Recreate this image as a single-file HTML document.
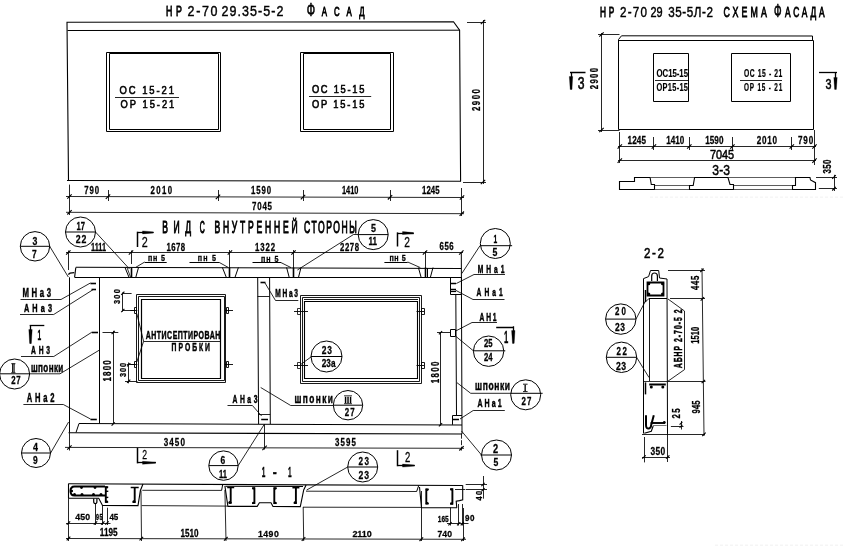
<!DOCTYPE html>
<html lang="ru">
<head>
<meta charset="utf-8">
<title>НР 2-70 29.35-5-2 ФАСАД</title>
<style>
html,body{margin:0;padding:0;background:#fff;}
body{width:844px;height:547px;overflow:hidden;}
svg{display:block;}
svg path,svg circle{fill:none;stroke:#000;stroke-linecap:butt;stroke-linejoin:miter;}
svg path.f{fill:#000;}
svg circle.d{fill:#000;stroke:none;}
svg text.r{font-weight:400;}
svg text{font-family:"Liberation Sans","DejaVu Sans",sans-serif;font-weight:700;fill:#000;}
</style>
</head>
<body>
<svg width="844" height="547" viewBox="0 0 844 547" role="img" aria-label="НР 2-70 29.35-5-2 Фасад">
<rect width="844" height="547" fill="#fff"/>
<defs><filter id="b" x="-2%" y="-2%" width="104%" height="104%"><feGaussianBlur stdDeviation="0.25"/></filter></defs><g filter="url(#b)">
<text transform="translate(166 16.2) scale(0.6 1)" font-size="14.71" class="r" stroke="#000" stroke-width="0.7" vector-effect="non-scaling-stroke" textLength="26.33" lengthAdjust="spacing">НР</text>
<text transform="translate(187.6 15.8) scale(0.85 1)" font-size="14.73" class="r" stroke="#000" stroke-width="0.4" vector-effect="non-scaling-stroke" textLength="35.18" lengthAdjust="spacing">2-70</text>
<text transform="translate(221.4 15.8) scale(0.85 1)" font-size="14.73" class="r" stroke="#000" stroke-width="0.4" vector-effect="non-scaling-stroke" textLength="72.94" lengthAdjust="spacing">29.35-5-2</text>
<text transform="translate(306.8 16.2) scale(0.59 1)" font-size="18.68" class="r" stroke="#000" stroke-width="0.6" vector-effect="non-scaling-stroke">Ф</text>
<text transform="translate(321.7 16.2) scale(0.6 1)" font-size="13.09" class="r" stroke="#000" stroke-width="0.7" vector-effect="non-scaling-stroke" textLength="71.5" lengthAdjust="spacing">АСАД</text>
<path d="M68.5 180.5L67 22.3L453.5 21.7L459.6 30.2L460.6 181.3" stroke-width="1.1"/>
<path d="M67.5 30.5L459.6 30.2" stroke-width="1"/>
<path d="M67 180.5L461 181.3" stroke-width="1.1"/>
<path d="M106.5 52.5L220.5 52.5L220.5 131.5L106.5 131.5Z" stroke-width="1"/>
<path d="M109.5 53.5L218.5 53.5L218.5 129.5L109.5 129.5Z" stroke-width="1"/>
<path d="M300.5 52.5L393.5 52.5L393.5 131.5L300.5 131.5Z" stroke-width="1"/>
<path d="M303.5 53.5L390.5 53.5L390.5 129.5L303.5 129.5Z" stroke-width="1"/>
<text transform="translate(119.6 93.6) scale(0.85 1)" font-size="11.1" class="r" stroke="#000" stroke-width="0.55" vector-effect="non-scaling-stroke" textLength="64" lengthAdjust="spacing">ОС 15-21</text>
<path d="M115 97.5L179 97.5" stroke-width="0.85"/>
<text transform="translate(120.5 108) scale(0.85 1)" font-size="10.96" class="r" stroke="#000" stroke-width="0.55" vector-effect="non-scaling-stroke" textLength="63.29" lengthAdjust="spacing">ОР 15-21</text>
<text transform="translate(311.9 93) scale(0.85 1)" font-size="10.96" class="r" stroke="#000" stroke-width="0.55" vector-effect="non-scaling-stroke" textLength="61.76" lengthAdjust="spacing">ОС 15-15</text>
<path d="M309 96.5L371.2 96.5" stroke-width="0.85"/>
<text transform="translate(311.9 107.6) scale(0.85 1)" font-size="10.96" class="r" stroke="#000" stroke-width="0.55" vector-effect="non-scaling-stroke" textLength="61.76" lengthAdjust="spacing">ОР 15-15</text>
<path d="M483.5 20L483.5 184" stroke-width="0.85"/>
<path d="M467 22.5L486 22.5" stroke-width="0.85"/>
<path d="M463 182.5L486 182.5" stroke-width="0.85"/>
<path d="M480.8 24.2L485.2 19.8" stroke-width="1.1"/>
<path d="M480.8 184.2L485.2 179.8" stroke-width="1.1"/>
<text transform="translate(480.2 111) rotate(-90) scale(0.78 1)" font-size="10.14" stroke="#000" stroke-width="0.25" vector-effect="non-scaling-stroke" textLength="28.21" lengthAdjust="spacing">2900</text>
<path d="M66 196.5L464 197.5" stroke-width="0.85"/>
<path d="M66 212.3L464 213.7" stroke-width="0.85"/>
<path d="M69.5 184.6L69.5 215" stroke-width="0.85"/>
<path d="M461.5 188L461.5 216" stroke-width="0.85"/>
<path d="M67.3 198.71L71.7 194.31" stroke-width="1.1"/>
<path d="M105.8 198.81L110.2 194.41" stroke-width="1.1"/>
<path d="M215.8 199.08L220.2 194.68" stroke-width="1.1"/>
<path d="M300.8 199.3L305.2 194.9" stroke-width="1.1"/>
<path d="M387.8 199.51L392.2 195.11" stroke-width="1.1"/>
<path d="M459.8 199.69L464.2 195.29" stroke-width="1.1"/>
<path d="M108.5 190L108.5 201" stroke-width="0.85"/>
<path d="M218.5 190L218.5 201" stroke-width="0.85"/>
<path d="M303.5 190L303.5 201" stroke-width="0.85"/>
<path d="M390.5 190L390.5 201" stroke-width="0.85"/>
<path d="M67.3 214.5L71.7 210.1" stroke-width="1.1"/>
<path d="M459.6 215.9L464 211.5" stroke-width="1.1"/>
<text transform="translate(84.2 194.2) scale(0.78 1)" font-size="10" stroke="#000" stroke-width="0.25" vector-effect="non-scaling-stroke" textLength="18.97" lengthAdjust="spacing">790</text>
<text transform="translate(150.5 194.2) scale(0.78 1)" font-size="10" stroke="#000" stroke-width="0.25" vector-effect="non-scaling-stroke" textLength="27.56" lengthAdjust="spacing">2010</text>
<text transform="translate(251 194.2) scale(0.78 1)" font-size="10" stroke="#000" stroke-width="0.25" vector-effect="non-scaling-stroke" textLength="25.64" lengthAdjust="spacing">1590</text>
<text transform="translate(342 194.2) scale(0.74 1)" font-size="10" stroke="#000" stroke-width="0.25" vector-effect="non-scaling-stroke" textLength="22.25" lengthAdjust="spacing">1410</text>
<text transform="translate(422 194.2) scale(0.78 1)" font-size="10" stroke="#000" stroke-width="0.25" vector-effect="non-scaling-stroke" textLength="22.44" lengthAdjust="spacing">1245</text>
<text transform="translate(252 209.5) scale(0.78 1)" font-size="10.14" stroke="#000" stroke-width="0.25" vector-effect="non-scaling-stroke" textLength="25.64" lengthAdjust="spacing">7045</text>
<text transform="translate(600.1 16.5) scale(0.6 1)" font-size="13.82" class="r" stroke="#000" stroke-width="0.7" vector-effect="non-scaling-stroke" textLength="23.67" lengthAdjust="spacing">НР</text>
<text transform="translate(620 16.5) scale(0.8 1)" font-size="14.59" class="r" stroke="#000" stroke-width="0.4" vector-effect="non-scaling-stroke" textLength="33.75" lengthAdjust="spacing">2-70</text>
<text transform="translate(650.4 16.5) scale(0.75 1)" font-size="14.59" class="r" stroke="#000" stroke-width="0.4" vector-effect="non-scaling-stroke" textLength="16.23" lengthAdjust="spacing">29</text>
<text transform="translate(668.3 16.5) scale(0.8 1)" font-size="14.59" class="r" stroke="#000" stroke-width="0.4" vector-effect="non-scaling-stroke" textLength="55.75" lengthAdjust="spacing">35-5Л-2</text>
<text transform="translate(723.4 16.5) scale(0.6 1)" font-size="14.71" class="r" stroke="#000" stroke-width="0.7" vector-effect="non-scaling-stroke" textLength="72.5" lengthAdjust="spacing">СХЕМА</text>
<text transform="translate(774 17) scale(0.54 1)" font-size="18.38" class="r" stroke="#000" stroke-width="0.6" vector-effect="non-scaling-stroke">Ф</text>
<text transform="translate(785 16.5) scale(0.6 1)" font-size="13.97" class="r" stroke="#000" stroke-width="0.7" vector-effect="non-scaling-stroke" textLength="66" lengthAdjust="spacing">АСАДА</text>
<path d="M618.5 129.5L618.5 39.5L621.5 35.8L812.5 36L812.5 40.5" stroke-width="1"/>
<path d="M618.5 40.5L813.5 40.5" stroke-width="1"/>
<path d="M813.5 40.5L813.5 129.5" stroke-width="1"/>
<path d="M618.5 129.5L813.5 129.5" stroke-width="1"/>
<path d="M653.5 53.5L688.5 53.5L688.5 101.5L653.5 101.5Z" stroke-width="1"/>
<path d="M731.5 53.5L790.5 53.5L790.5 101.5L731.5 101.5Z" stroke-width="1"/>
<text transform="translate(656.5 76.7) scale(0.7 1)" font-size="11.18" stroke="#000" stroke-width="0.15" vector-effect="non-scaling-stroke" textLength="45" lengthAdjust="spacing">ОС15-15</text>
<path d="M655 80.5L688 80.5" stroke-width="0.85"/>
<text transform="translate(656.5 91.2) scale(0.7 1)" font-size="10.59" stroke="#000" stroke-width="0.15" vector-effect="non-scaling-stroke" textLength="45" lengthAdjust="spacing">ОР15-15</text>
<text transform="translate(744 76.5) scale(0.62 1)" font-size="10.88" stroke="#000" stroke-width="0.2" vector-effect="non-scaling-stroke" textLength="61.77" lengthAdjust="spacing">ОС 15 - 21</text>
<path d="M740 80.5L782 80.5" stroke-width="0.85"/>
<text transform="translate(744 91) scale(0.62 1)" font-size="10.29" stroke="#000" stroke-width="0.2" vector-effect="non-scaling-stroke" textLength="61.77" lengthAdjust="spacing">ОР 15 - 21</text>
<path d="M601.5 33L601.5 132" stroke-width="0.85"/>
<path d="M598 34.5L619.5 34.5" stroke-width="0.85"/>
<path d="M598 130.5L619.5 130.5" stroke-width="0.85"/>
<path d="M599.3 36.7L603.7 32.3" stroke-width="1.1"/>
<path d="M599.3 132.2L603.7 127.8" stroke-width="1.1"/>
<text transform="translate(597.7 89.2) rotate(-90) scale(0.78 1)" font-size="10" stroke="#000" stroke-width="0.25" vector-effect="non-scaling-stroke" textLength="27.18" lengthAdjust="spacing">2900</text>
<path d="M570 72.5L585.5 72.5" stroke-width="1.5"/>
<path d="M571.5 72L571.5 89.3" stroke-width="1.3"/>
<path d="M569.3 76.5L572.7 76.5L571.8 89.5L570.2 89.5Z" stroke-width="0.3" class="f"/>
<text transform="translate(577.8 88.6) scale(0.77 1)" font-size="15.81" class="r" stroke="#000" stroke-width="0.5" vector-effect="non-scaling-stroke">3</text>
<path d="M819 72.5L837 72.5" stroke-width="1.3"/>
<path d="M835.5 72.5L835.5 89" stroke-width="1.3"/>
<path d="M833.8 77.5L837.2 77.5L836.3 89.5L834.7 89.5Z" stroke-width="0.3" class="f"/>
<text transform="translate(825.4 89) scale(0.7 1)" font-size="15.41" class="r" stroke="#000" stroke-width="0.5" vector-effect="non-scaling-stroke">3</text>
<path d="M618 146.5L816 146.5" stroke-width="0.85"/>
<path d="M618 160.5L816 160.5" stroke-width="0.85"/>
<path d="M619.5 132L619.5 163" stroke-width="0.85"/>
<path d="M814.5 130L814.5 165" stroke-width="0.85"/>
<path d="M617.6 148.7L622 144.3" stroke-width="1.1"/>
<path d="M651.7 148.7L656.1 144.3" stroke-width="1.1"/>
<path d="M687.1 148.7L691.5 144.3" stroke-width="1.1"/>
<path d="M730.2 148.7L734.6 144.3" stroke-width="1.1"/>
<path d="M789.6 148.7L794 144.3" stroke-width="1.1"/>
<path d="M812.3 148.7L816.7 144.3" stroke-width="1.1"/>
<path d="M653.5 137L653.5 150" stroke-width="0.85"/>
<path d="M689.5 137L689.5 150" stroke-width="0.85"/>
<path d="M732.5 137L732.5 150" stroke-width="0.85"/>
<path d="M791.5 137L791.5 150" stroke-width="0.85"/>
<path d="M617.6 162.8L622 158.4" stroke-width="1.1"/>
<path d="M812.3 162.8L816.7 158.4" stroke-width="1.1"/>
<text transform="translate(627.5 143.7) scale(0.78 1)" font-size="10.41" stroke="#000" stroke-width="0.25" vector-effect="non-scaling-stroke" textLength="23.72" lengthAdjust="spacing">1245</text>
<text transform="translate(666.2 143.7) scale(0.78 1)" font-size="10.41" stroke="#000" stroke-width="0.25" vector-effect="non-scaling-stroke" textLength="23.21" lengthAdjust="spacing">1410</text>
<text transform="translate(705.2 143.7) scale(0.78 1)" font-size="10.41" stroke="#000" stroke-width="0.25" vector-effect="non-scaling-stroke" textLength="23.46" lengthAdjust="spacing">1590</text>
<text transform="translate(756.7 143.7) scale(0.78 1)" font-size="10.41" stroke="#000" stroke-width="0.25" vector-effect="non-scaling-stroke" textLength="26.03" lengthAdjust="spacing">2010</text>
<text transform="translate(797.9 143.7) scale(0.78 1)" font-size="10.41" stroke="#000" stroke-width="0.25" vector-effect="non-scaling-stroke" textLength="19.74" lengthAdjust="spacing">790</text>
<text transform="translate(710.1 159.2) scale(0.9 1)" font-size="12.16" class="r" stroke="#000" stroke-width="0.45" vector-effect="non-scaling-stroke" textLength="26.56" lengthAdjust="spacing">7045</text>
<text transform="translate(712.3 175) scale(0.8 1)" font-size="15.14" class="r" stroke="#000" stroke-width="0.45" vector-effect="non-scaling-stroke" textLength="22.13" lengthAdjust="spacing">3-3</text>
<path d="M619.5 181.5L634.5 181.5L634.5 177.5L650.1 177.5L651.3 184.5L654.5 184.5L654.5 189.5L619.5 189.5Z" stroke-width="1.1"/>
<path d="M650 177.5L694 177.5" stroke-width="0.8" style="stroke:#333"/>
<path d="M654.6 185.5L689.6 185.5" stroke-width="0.8" style="stroke:#333"/>
<path d="M654.6 189.5L689.6 189.5" stroke-width="0.8" style="stroke:#333"/>
<path d="M689.5 189.5L689.5 185.5L693.2 185.5L694.6 177.5L728 177.5L730 184.5L733.5 184.5L733.5 189.5Z" stroke-width="1.1"/>
<path d="M728 177.5L795.7 177.5" stroke-width="0.8" style="stroke:#333"/>
<path d="M733.6 185.5L792 185.5" stroke-width="0.8" style="stroke:#333"/>
<path d="M733.6 189.5L792 189.5" stroke-width="0.8" style="stroke:#333"/>
<path d="M792.5 189.5L792.5 185.5L795.5 185.5L795.5 177.5L810 177.5L810.5 180L815.5 182.7L815.5 189.5Z" stroke-width="1.1"/>
<path d="M816 177.5L837 177.5" stroke-width="0.85"/>
<path d="M818.8 188.5L837 188.5" stroke-width="0.85"/>
<path d="M834.5 174.8L834.5 191" stroke-width="0.85"/>
<path d="M832.2 178.8L835.8 175.2" stroke-width="1.1"/>
<path d="M832.2 190.5L835.8 186.9" stroke-width="1.1"/>
<text transform="translate(831 173.4) rotate(-90) scale(0.78 1)" font-size="10.14" stroke="#000" stroke-width="0.25" vector-effect="non-scaling-stroke" textLength="17.69" lengthAdjust="spacing">350</text>
<text transform="translate(162.3 232.7) scale(0.52 1)" font-size="16.47" class="r" stroke="#000" stroke-width="0.8" vector-effect="non-scaling-stroke" textLength="55.19" lengthAdjust="spacing">ВИД</text>
<text transform="translate(199.8 232.7) scale(0.42 1)" font-size="16.47" class="r" stroke="#000" stroke-width="0.8" vector-effect="non-scaling-stroke">С</text>
<text transform="translate(214.4 232.7) scale(0.52 1)" font-size="16.47" class="r" stroke="#000" stroke-width="0.8" vector-effect="non-scaling-stroke" textLength="160.19" lengthAdjust="spacing">ВНУТРЕННЕЙ</text>
<text transform="translate(304 232.7) scale(0.52 1)" font-size="16.47" class="r" stroke="#000" stroke-width="0.8" vector-effect="non-scaling-stroke" textLength="101.54" lengthAdjust="spacing">СТОРОНЫ</text>
<path d="M66 252.5L463 252.5" stroke-width="0.85"/>
<path d="M66.1 254.7L70.5 250.3" stroke-width="1.1"/>
<path d="M128.8 254.7L133.2 250.3" stroke-width="1.1"/>
<path d="M227.7 254.7L232.1 250.3" stroke-width="1.1"/>
<path d="M291.3 254.7L295.7 250.3" stroke-width="1.1"/>
<path d="M422.8 254.7L427.2 250.3" stroke-width="1.1"/>
<path d="M459.1 254.7L463.5 250.3" stroke-width="1.1"/>
<path d="M68.5 250.5L68.5 270" stroke-width="0.85"/>
<path d="M131.5 250.5L131.5 264" stroke-width="0.85"/>
<path d="M229.5 250L229.5 268" stroke-width="0.85"/>
<path d="M293.5 250L293.5 268" stroke-width="0.85"/>
<path d="M425.5 251L425.5 268" stroke-width="0.85"/>
<text transform="translate(91 250.6) scale(0.73 1)" font-size="10" stroke="#000" stroke-width="0.25" vector-effect="non-scaling-stroke" textLength="20.59" lengthAdjust="spacing">1111</text>
<text transform="translate(166.5 250.6) scale(0.78 1)" font-size="10" stroke="#000" stroke-width="0.25" vector-effect="non-scaling-stroke" textLength="23.97" lengthAdjust="spacing">1678</text>
<text transform="translate(255 250.6) scale(0.78 1)" font-size="10" stroke="#000" stroke-width="0.25" vector-effect="non-scaling-stroke" textLength="25.64" lengthAdjust="spacing">1322</text>
<text transform="translate(340 250.6) scale(0.78 1)" font-size="10" stroke="#000" stroke-width="0.25" vector-effect="non-scaling-stroke" textLength="24.36" lengthAdjust="spacing">2278</text>
<text transform="translate(439.6 250.4) scale(0.78 1)" font-size="10" stroke="#000" stroke-width="0.25" vector-effect="non-scaling-stroke" textLength="17.95" lengthAdjust="spacing">656</text>
<path d="M137.5 231.7L137.5 247" stroke-width="1.5"/>
<path d="M137.6 232.5L153.3 232.5" stroke-width="1.3"/>
<path d="M142.5 230.9L153.5 231.9L153.5 232.9L142.5 233.9Z" stroke-width="0.3" class="f"/>
<text transform="translate(141.7 247.3) scale(0.72 1)" font-size="15" class="r" stroke="#000" stroke-width="0.25" vector-effect="non-scaling-stroke">2</text>
<path d="M397.5 232.4L397.5 246.5" stroke-width="1.5"/>
<path d="M397.1 233.5L413.8 233.5" stroke-width="1.3"/>
<path d="M402.5 231.6L413.5 232.6L413.5 233.6L402.5 234.6Z" stroke-width="0.3" class="f"/>
<text transform="translate(404.3 247.4) scale(0.69 1)" font-size="14.86" class="r" stroke="#000" stroke-width="0.25" vector-effect="non-scaling-stroke">2</text>
<path d="M137.5 447.8L137.5 463.4" stroke-width="1.5"/>
<path d="M137.8 462.5L155.9 462.5" stroke-width="1.3"/>
<path d="M142.5 461.3L155.5 462.3L155.5 463.3L142.5 464.3Z" stroke-width="0.3" class="f"/>
<text transform="translate(142.3 458.8) scale(0.64 1)" font-size="13.51" class="r" stroke="#000" stroke-width="0.25" vector-effect="non-scaling-stroke">2</text>
<path d="M397.5 450.2L397.5 466.3" stroke-width="1.5"/>
<path d="M397.9 465.5L414.7 465.5" stroke-width="1.3"/>
<path d="M402.5 464.1L414.5 465.1L414.5 466.1L402.5 467.1Z" stroke-width="0.3" class="f"/>
<text transform="translate(404.9 461.6) scale(0.65 1)" font-size="14.73" class="r" stroke="#000" stroke-width="0.25" vector-effect="non-scaling-stroke">2</text>
<path d="M75.8 267.3L461.3 268.5" stroke-width="1.1"/>
<path d="M74.6 277.5L461.3 277.5" stroke-width="1.1"/>
<path d="M75.8 267.5L74.6 277.3" stroke-width="1.1"/>
<path d="M68.3 274.6L70 273.2L74.3 272.7" stroke-width="1.3"/>
<path d="M131.5 267.5L131.5 277.3" stroke-width="1.6"/>
<path d="M125 267.5L129 277.3" stroke-width="1"/>
<path d="M138.5 267.5L135.8 277.3" stroke-width="1"/>
<path d="M127 267.5L130.6 277.3" stroke-width="0.8"/>
<path d="M229.5 267.5L229.5 277.3" stroke-width="1.6"/>
<path d="M222.4 267.5L226.3 277.3" stroke-width="1"/>
<path d="M238.4 267.5L235 277.3" stroke-width="1"/>
<path d="M293.5 267.5L293.5 277.3" stroke-width="1.6"/>
<path d="M286.6 267.5L289.2 277.3" stroke-width="1"/>
<path d="M301 267.5L298.5 277.3" stroke-width="1"/>
<path d="M425.5 267.5L425.5 277.3" stroke-width="1.6"/>
<path d="M418.4 267.5L421.1 277.3" stroke-width="1"/>
<path d="M433 267.5L430.4 277.3" stroke-width="1"/>
<path d="M427.5 268L427.5 277.3" stroke-width="1"/>
<text transform="translate(148 260.9) scale(0.8 1)" font-size="8.92" stroke="#000" stroke-width="0.3" vector-effect="non-scaling-stroke" textLength="21.25" lengthAdjust="spacing">пн 5</text>
<path d="M144.7 262.5L166.7 262.5" stroke-width="1"/>
<path d="M144.7 262L135.8 267.3" stroke-width="0.85"/>
<text transform="translate(197.7 261.3) scale(0.8 1)" font-size="8.92" stroke="#000" stroke-width="0.3" vector-effect="non-scaling-stroke" textLength="22.88" lengthAdjust="spacing">пн 5</text>
<path d="M189.5 262.5L219.2 262.5" stroke-width="1"/>
<path d="M219.2 262.4L228 267.3" stroke-width="0.85"/>
<text transform="translate(261 261.5) scale(0.8 1)" font-size="8.92" stroke="#000" stroke-width="0.3" vector-effect="non-scaling-stroke" textLength="21.88" lengthAdjust="spacing">пн 5</text>
<path d="M252.5 262.5L281 262.5" stroke-width="1"/>
<path d="M281 262.6L291 267.6" stroke-width="0.85"/>
<text transform="translate(389.4 260.9) scale(0.8 1)" font-size="8.92" stroke="#000" stroke-width="0.3" vector-effect="non-scaling-stroke" textLength="20.5" lengthAdjust="spacing">пн 5</text>
<path d="M384.4 262.5L407.7 262.5" stroke-width="1"/>
<path d="M407.7 262L420.3 267.6" stroke-width="0.85"/>
<path d="M69.5 277.3L69.5 432.7" stroke-width="1"/>
<path d="M99.5 277.3L99.5 423.5" stroke-width="1"/>
<path d="M257.7 277.3L258.6 424" stroke-width="1"/>
<path d="M269.6 277.3L270.3 424" stroke-width="1"/>
<path d="M257.5 296.5L269.5 296.5" stroke-width="0.85"/>
<path d="M455.8 294L456.5 415.8" stroke-width="1"/>
<path d="M461.3 252L462 434" stroke-width="1"/>
<path d="M79 423.5L462 425" stroke-width="1.1"/>
<path d="M68.5 432.8L462 434" stroke-width="1.1"/>
<path d="M79 423.5L76 432.5" stroke-width="1"/>
<path d="M65 447.4L464 448.3" stroke-width="0.85"/>
<path d="M69.5 433L69.5 450.5" stroke-width="0.85"/>
<path d="M264.5 424L264.5 449.5" stroke-width="0.85"/>
<path d="M461.5 433.7L461.5 450.5" stroke-width="0.85" stroke-dasharray="5 1.5"/>
<path d="M67.2 449.7L71.6 445.3" stroke-width="1.1"/>
<path d="M262.4 450.1L266.8 445.7" stroke-width="1.1"/>
<path d="M459.3 450.5L463.7 446.1" stroke-width="1.1"/>
<text transform="translate(163.7 445.7) scale(0.78 1)" font-size="10.41" stroke="#000" stroke-width="0.25" vector-effect="non-scaling-stroke" textLength="27.31" lengthAdjust="spacing">3450</text>
<text transform="translate(335 446) scale(0.78 1)" font-size="10.14" stroke="#000" stroke-width="0.25" vector-effect="non-scaling-stroke" textLength="26.92" lengthAdjust="spacing">3595</text>
<path d="M258.5 414.5L270.2 414.5" stroke-width="0.85"/>
<path d="M261.2 419.5L268 419.5" stroke-width="1.5"/>
<path d="M136.5 294.5L225.5 294.5L225.5 382.5L136.5 382.5Z" stroke-width="0.9"/>
<path d="M138.5 296.5L224.5 296.5L224.5 380.5L138.5 380.5Z" stroke-width="0.9"/>
<path d="M141.5 299.5L220.5 299.5L220.5 378.5L141.5 378.5Z" stroke-width="1.2"/>
<path d="M300.5 295.5L421.5 295.5L421.5 383.5L300.5 383.5Z" stroke-width="0.9"/>
<path d="M302.5 297.5L419.5 297.5L419.5 381.5L302.5 381.5Z" stroke-width="0.9"/>
<path d="M304.5 301.5L417.5 301.5L417.5 378.5L304.5 378.5Z" stroke-width="1.1"/>
<path d="M304 299.5L418 299.5" stroke-width="0.9"/>
<path d="M134.5 307.5L136.5 307.5L136.5 313.5L134.5 313.5Z" stroke-width="0.9"/>
<path d="M130.3 310.5L137.3 310.5" stroke-width="0.9"/>
<path d="M134.5 361.5L136.5 361.5L136.5 367.5L134.5 367.5Z" stroke-width="0.9"/>
<path d="M130.3 364.5L137.3 364.5" stroke-width="0.9"/>
<path d="M226.5 307.5L228.5 307.5L228.5 313.5L226.5 313.5Z" stroke-width="0.9"/>
<path d="M225 310.5L233 310.5" stroke-width="0.9"/>
<path d="M226.5 361.5L228.5 361.5L228.5 367.5L226.5 367.5Z" stroke-width="0.9"/>
<path d="M225 364.5L233 364.5" stroke-width="0.9"/>
<path d="M294 311.5L308 311.5" stroke-width="0.9"/>
<path d="M297.5 308.5L300.5 308.5L300.5 314.5L297.5 314.5Z" stroke-width="0.8"/>
<path d="M294 365.5L308 365.5" stroke-width="0.9"/>
<path d="M297.5 362.5L300.5 362.5L300.5 368.5L297.5 368.5Z" stroke-width="0.8"/>
<path d="M421.5 308.5L424.5 308.5L424.5 314.5L421.5 314.5Z" stroke-width="0.9"/>
<path d="M416.5 311.5L424 311.5" stroke-width="0.9"/>
<path d="M421.5 362.5L424.5 362.5L424.5 368.5L421.5 368.5Z" stroke-width="0.9"/>
<path d="M416.5 365.5L424 365.5" stroke-width="0.9"/>
<path d="M122.5 292.5L122.5 311.6" stroke-width="0.85"/>
<path d="M122 293.5L131.6 293.5" stroke-width="0.85"/>
<path d="M122.8 310.5L134 310.5" stroke-width="0.85"/>
<path d="M121.2 294.8L124.4 291.6" stroke-width="1.1"/>
<path d="M121.2 312.1L124.4 308.9" stroke-width="1.1"/>
<text transform="translate(120 304) rotate(-90) scale(0.78 1)" font-size="9.46" stroke="#000" stroke-width="0.25" vector-effect="non-scaling-stroke" textLength="18.97" lengthAdjust="spacing">300</text>
<path d="M128.5 362.5L128.5 383.3" stroke-width="0.85"/>
<path d="M126.7 364.5L134 364.5" stroke-width="0.85"/>
<path d="M125 381.5L137.5 381.5" stroke-width="0.85"/>
<path d="M127.1 366.3L130.3 363.1" stroke-width="1.1"/>
<path d="M127.1 382.9L130.3 379.7" stroke-width="1.1"/>
<text transform="translate(125.8 377) rotate(-90) scale(0.78 1)" font-size="9.46" stroke="#000" stroke-width="0.25" vector-effect="non-scaling-stroke" textLength="17.95" lengthAdjust="spacing">300</text>
<path d="M113.5 330.8L113.5 424" stroke-width="0.85"/>
<path d="M102.5 332.5L118.3 332.5" stroke-width="0.85"/>
<path d="M111.6 334.1L114.8 330.9" stroke-width="1.1"/>
<path d="M111.6 425.6L114.8 422.4" stroke-width="1.1"/>
<text transform="translate(111 381.5) rotate(-90) scale(0.78 1)" font-size="10.27" stroke="#000" stroke-width="0.25" vector-effect="non-scaling-stroke" textLength="27.18" lengthAdjust="spacing">1800</text>
<path d="M440.5 332.7L440.5 425.5" stroke-width="0.85"/>
<path d="M437 332.5L450 332.5" stroke-width="0.85"/>
<path d="M438.9 334.3L442.1 331.1" stroke-width="1.1"/>
<path d="M438.9 426.3L442.1 423.1" stroke-width="1.1"/>
<text transform="translate(439.4 383.2) rotate(-90) scale(0.78 1)" font-size="10.14" stroke="#000" stroke-width="0.25" vector-effect="non-scaling-stroke" textLength="27.69" lengthAdjust="spacing">1800</text>
<text transform="translate(145.8 338.8) scale(0.66 1)" font-size="10.59" stroke="#000" stroke-width="0.4" vector-effect="non-scaling-stroke" textLength="112.88" lengthAdjust="spacing">АНТИСЕПТИРОВАН</text>
<path d="M143.6 341.5L220.8 341.5" stroke-width="0.85"/>
<path d="M143.6 341.3L136.8 313.5" stroke-width="0.85"/>
<path d="M143.6 341.3L136.8 362" stroke-width="0.85"/>
<text transform="translate(171.6 351) scale(0.66 1)" font-size="10.29" stroke="#000" stroke-width="0.4" vector-effect="non-scaling-stroke" textLength="58.18" lengthAdjust="spacing">ПРОБКИ</text>
<text transform="translate(22.5 297) scale(0.64 1)" font-size="12.14" stroke="#000" stroke-width="0.4" vector-effect="non-scaling-stroke" textLength="44.53" lengthAdjust="spacing">МНа3</text>
<path d="M20.5 299.5L61 299.5L90.4 283" stroke-width="0.85"/>
<path d="M90.4 283.5L96 283.5" stroke-width="1.6"/>
<text transform="translate(24 312) scale(0.64 1)" font-size="11.43" stroke="#000" stroke-width="0.4" vector-effect="non-scaling-stroke" textLength="43.75" lengthAdjust="spacing">АНа3</text>
<path d="M20 314.5L53.7 314.5L93 289.7" stroke-width="0.85"/>
<path d="M91.5 289.5L96 289.5" stroke-width="1.6"/>
<path d="M29.7 325.5L44.3 325.5" stroke-width="1.3"/>
<path d="M30.5 325.3L30.5 343.5" stroke-width="1.3"/>
<path d="M28.8 329.5L32.2 329.5L31.3 343.5L29.7 343.5Z" stroke-width="0.3" class="f"/>
<text transform="translate(37.6 340.2) scale(0.47 1)" font-size="14.19" stroke="#000" stroke-width="0.25" vector-effect="non-scaling-stroke">1</text>
<text transform="translate(31 353.9) scale(0.64 1)" font-size="10.43" stroke="#000" stroke-width="0.4" vector-effect="non-scaling-stroke" textLength="29.69" lengthAdjust="spacing">АН3</text>
<path d="M21 356.5L53.8 356.5L91.7 332.3" stroke-width="0.85"/>
<path d="M91.7 332.5L98 332.5" stroke-width="1.6"/>
<text transform="translate(31 372.3) scale(0.66 1)" font-size="12.26" stroke="#000" stroke-width="0.4" vector-effect="non-scaling-stroke" textLength="48.94" lengthAdjust="spacing">шпонки</text>
<path d="M29 373.8L60 373.8L99.5 350" stroke-width="0.85"/>
<text transform="translate(26.8 402) scale(0.64 1)" font-size="11.86" stroke="#000" stroke-width="0.4" vector-effect="non-scaling-stroke" textLength="43.12" lengthAdjust="spacing">АНа2</text>
<path d="M23.4 404.5L63.3 404.5L90.5 419" stroke-width="0.85"/>
<path d="M90.5 419.5L96.8 419.5" stroke-width="1.6"/>
<path d="M260.5 282.5L265.5 282.5" stroke-width="1.6"/>
<path d="M265 283L275.5 300.5L298.3 300.5" stroke-width="0.85"/>
<text transform="translate(275.2 297) scale(0.64 1)" font-size="10.29" stroke="#000" stroke-width="0.4" vector-effect="non-scaling-stroke" textLength="35.63" lengthAdjust="spacing">МНа3</text>
<text transform="translate(232.5 403.2) scale(0.64 1)" font-size="10.57" stroke="#000" stroke-width="0.4" vector-effect="non-scaling-stroke" textLength="38.91" lengthAdjust="spacing">АНа3</text>
<path d="M227.5 405.5L252.4 405.5L261.6 416" stroke-width="0.85"/>
<text transform="translate(294.5 403) scale(0.66 1)" font-size="12.64" stroke="#000" stroke-width="0.4" vector-effect="non-scaling-stroke" textLength="58.33" lengthAdjust="spacing">шпонки</text>
<path d="M333.5 405.5L290.7 405.5L260.7 387.5" stroke-width="0.85"/>
<path d="M450.5 277.5L461.5 277.5L461.5 294.5L450.5 294.5Z" stroke-width="1"/>
<path d="M450.5 283.5L456 283.5" stroke-width="1.5"/>
<path d="M450.5 289.5L456 289.5" stroke-width="1.5"/>
<path d="M450.5 291.5L456 291.5" stroke-width="1.2"/>
<path d="M450.5 329.5L455.5 329.5L455.5 336.5L450.5 336.5Z" stroke-width="1"/>
<path d="M462 415.5L452.5 415.5L452.5 424.8" stroke-width="1"/>
<path d="M452 419.5L459 419.5" stroke-width="1.5"/>
<text transform="translate(477.8 272.9) scale(0.64 1)" font-size="10.43" stroke="#000" stroke-width="0.4" vector-effect="non-scaling-stroke" textLength="41.56" lengthAdjust="spacing">МНа1</text>
<path d="M456.3 283.5L474 274.5L505 274.5" stroke-width="0.85"/>
<text transform="translate(476.5 295.9) scale(0.64 1)" font-size="10.43" stroke="#000" stroke-width="0.4" vector-effect="non-scaling-stroke" textLength="41.09" lengthAdjust="spacing">АНа1</text>
<path d="M455.5 290.2L473 299.5L504.5 299.5" stroke-width="0.85"/>
<text transform="translate(479.5 320.5) scale(0.64 1)" font-size="10.43" stroke="#000" stroke-width="0.4" vector-effect="non-scaling-stroke" textLength="26.56" lengthAdjust="spacing">АН1</text>
<path d="M455.7 331L472 322.5L497 322.5" stroke-width="0.85"/>
<path d="M496.2 327.5L513.9 327.5" stroke-width="1.5"/>
<path d="M513.5 326.3L513.5 343" stroke-width="1.3"/>
<path d="M511.6 330.5L515 330.5L514.1 343.5L512.5 343.5Z" stroke-width="0.3" class="f"/>
<text transform="translate(504 343) scale(0.49 1)" font-size="15.68" stroke="#000" stroke-width="0.25" vector-effect="non-scaling-stroke">1</text>
<text transform="translate(475 390.3) scale(0.66 1)" font-size="12.83" stroke="#000" stroke-width="0.4" vector-effect="non-scaling-stroke" textLength="53.03" lengthAdjust="spacing">шпонки</text>
<path d="M511 393.3L470.7 393.3L457 382.7" stroke-width="0.85"/>
<text transform="translate(477.4 407) scale(0.64 1)" font-size="11" stroke="#000" stroke-width="0.4" vector-effect="non-scaling-stroke" textLength="37.97" lengthAdjust="spacing">АНа1</text>
<path d="M504.8 410.5L473.2 410.5L460 419" stroke-width="0.85"/>
<circle cx="80.5" cy="232" r="15" stroke-width="1"/>
<path d="M65.5 232L95.5 232" stroke-width="1"/>
<text transform="translate(76.5 230.3) scale(0.7 1)" font-size="10.95" stroke="#000" stroke-width="0.25" vector-effect="non-scaling-stroke" textLength="12.18" lengthAdjust="spacing">17</text>
<text transform="translate(75.7 243.3) scale(0.78 1)" font-size="11.22" stroke="#000" stroke-width="0.25" vector-effect="non-scaling-stroke" textLength="13.59" lengthAdjust="spacing">22</text>
<path d="M95.5 232L129.5 269" stroke-width="0.85"/>
<circle cx="35" cy="246.3" r="14.7" stroke-width="1"/>
<path d="M20.3 246.3L49.7 246.3" stroke-width="1"/>
<text transform="translate(32.5 244.6) scale(0.78 1)" font-size="11.22" stroke="#000" stroke-width="0.25" vector-effect="non-scaling-stroke">3</text>
<text transform="translate(32 258.3) scale(0.78 1)" font-size="10.81" stroke="#000" stroke-width="0.25" vector-effect="non-scaling-stroke">7</text>
<path d="M49.5 246L68.3 277" stroke-width="0.85"/>
<circle cx="373.2" cy="234.6" r="15" stroke-width="1"/>
<path d="M358.2 234.6L388.2 234.6" stroke-width="1"/>
<text transform="translate(371 231.5) scale(0.78 1)" font-size="11.49" stroke="#000" stroke-width="0.25" vector-effect="non-scaling-stroke">5</text>
<text transform="translate(368.5 245) scale(0.78 1)" font-size="10.41" stroke="#000" stroke-width="0.25" vector-effect="non-scaling-stroke" textLength="10.9" lengthAdjust="spacing">11</text>
<path d="M358.5 234.5L353.5 234.5L297.4 270" stroke-width="0.85"/>
<circle cx="495.3" cy="243.5" r="15" stroke-width="1"/>
<path d="M479.96 245.7L512.14 245.7" stroke-width="1"/>
<text transform="translate(493.5 243.3) scale(0.57 1)" font-size="11.76" stroke="#000" stroke-width="0.25" vector-effect="non-scaling-stroke">1</text>
<text transform="translate(492.5 256.3) scale(0.78 1)" font-size="11.22" stroke="#000" stroke-width="0.25" vector-effect="non-scaling-stroke">5</text>
<path d="M480 245.7L461.8 273.5" stroke-width="0.85"/>
<circle cx="14.6" cy="374" r="15" stroke-width="1"/>
<path d="M-0.4 373.8L29.6 373.8" stroke-width="1"/>
<text transform="translate(11.7 372.4) scale(0.5 1)" font-size="11.76" stroke="#000" stroke-width="0.4" vector-effect="non-scaling-stroke" textLength="6.54" lengthAdjust="spacing">II</text>
<text transform="translate(11.2 384.2) scale(0.78 1)" font-size="10" stroke="#000" stroke-width="0.25" vector-effect="non-scaling-stroke" textLength="12.05" lengthAdjust="spacing">27</text>
<path d="M11.3 363.7L15.4 363.7" stroke-width="0.9"/>
<path d="M11.3 372.7L15.4 372.7" stroke-width="0.9"/>
<circle cx="36" cy="453" r="14.5" stroke-width="1"/>
<path d="M21.5 453L50.5 453" stroke-width="1"/>
<text transform="translate(33 451) scale(0.78 1)" font-size="11.49" stroke="#000" stroke-width="0.25" vector-effect="non-scaling-stroke">4</text>
<text transform="translate(33 464) scale(0.78 1)" font-size="10.81" stroke="#000" stroke-width="0.25" vector-effect="non-scaling-stroke">9</text>
<path d="M50.6 453L68.6 422" stroke-width="0.85"/>
<circle cx="223.5" cy="465.6" r="14.7" stroke-width="1"/>
<path d="M208.8 465.6L238.2 465.6" stroke-width="1"/>
<text transform="translate(220.5 463.5) scale(0.78 1)" font-size="10.81" stroke="#000" stroke-width="0.25" vector-effect="non-scaling-stroke">6</text>
<text transform="translate(219 477.5) scale(0.7 1)" font-size="10.81" stroke="#000" stroke-width="0.25" vector-effect="non-scaling-stroke" textLength="11.43" lengthAdjust="spacing">11</text>
<path d="M238.2 465.6L264.3 424.3" stroke-width="0.85"/>
<circle cx="362.7" cy="467" r="15" stroke-width="1"/>
<path d="M347.7 467L377.7 467" stroke-width="1"/>
<text transform="translate(358.5 465.2) scale(0.78 1)" font-size="10.41" stroke="#000" stroke-width="0.25" vector-effect="non-scaling-stroke" textLength="13.46" lengthAdjust="spacing">23</text>
<text transform="translate(358.5 478.7) scale(0.78 1)" font-size="11.08" stroke="#000" stroke-width="0.25" vector-effect="non-scaling-stroke" textLength="13.46" lengthAdjust="spacing">23</text>
<path d="M347.7 467L306.7 490" stroke-width="0.85"/>
<circle cx="326.5" cy="356.5" r="15.5" stroke-width="1"/>
<path d="M311 356.5L342 356.5" stroke-width="1"/>
<text transform="translate(321.7 354) scale(0.78 1)" font-size="10.81" stroke="#000" stroke-width="0.25" vector-effect="non-scaling-stroke" textLength="13.21" lengthAdjust="spacing">23</text>
<text transform="translate(321.7 367.3) scale(0.78 1)" font-size="10.54" stroke="#000" stroke-width="0.25" vector-effect="non-scaling-stroke" textLength="17.69" lengthAdjust="spacing">23а</text>
<path d="M311.2 356.8L300 365" stroke-width="0.85"/>
<circle cx="348" cy="405.2" r="14.7" stroke-width="1"/>
<path d="M333.3 405.2L362.7 405.2" stroke-width="1"/>
<text transform="translate(344.5 403) scale(0.78 1)" font-size="9.56" stroke="#000" stroke-width="0.4" vector-effect="non-scaling-stroke" textLength="8.97" lengthAdjust="spacing">III</text>
<text transform="translate(344.7 416) scale(0.78 1)" font-size="10.14" stroke="#000" stroke-width="0.25" vector-effect="non-scaling-stroke" textLength="12.82" lengthAdjust="spacing">27</text>
<path d="M344 395.8L352 395.8" stroke-width="0.8"/>
<path d="M344 403.7L352 403.7" stroke-width="0.8"/>
<circle cx="488.6" cy="351.2" r="15.2" stroke-width="1"/>
<path d="M473.41 350.8L505.29 350.8" stroke-width="1"/>
<text transform="translate(484 347.4) scale(0.73 1)" font-size="10.54" stroke="#000" stroke-width="0.25" vector-effect="non-scaling-stroke" textLength="11.72" lengthAdjust="spacing">25</text>
<text transform="translate(484 361) scale(0.75 1)" font-size="10.27" stroke="#000" stroke-width="0.25" vector-effect="non-scaling-stroke" textLength="11.42" lengthAdjust="spacing">24</text>
<path d="M473.4 350.8L456 336.5" stroke-width="0.85"/>
<circle cx="525.7" cy="394.8" r="15" stroke-width="1"/>
<path d="M510.78 393.3L542.62 393.3" stroke-width="1"/>
<text transform="translate(524.3 391.2) scale(0.74 1)" font-size="9.71" stroke="#000" stroke-width="0.4" vector-effect="non-scaling-stroke">I</text>
<text transform="translate(521.5 404.8) scale(0.78 1)" font-size="10.14" stroke="#000" stroke-width="0.25" vector-effect="non-scaling-stroke" textLength="12.82" lengthAdjust="spacing">27</text>
<path d="M523 384.2L527.6 384.2" stroke-width="0.9"/>
<path d="M523 391.6L527.6 391.6" stroke-width="0.9"/>
<circle cx="496.5" cy="455" r="15" stroke-width="1"/>
<path d="M480.5 455L511.5 455" stroke-width="1"/>
<text transform="translate(493 452.5) scale(0.78 1)" font-size="11.89" stroke="#000" stroke-width="0.25" vector-effect="non-scaling-stroke">2</text>
<text transform="translate(493.5 466.2) scale(0.78 1)" font-size="11.08" stroke="#000" stroke-width="0.25" vector-effect="non-scaling-stroke">5</text>
<path d="M481.5 455L461.5 431" stroke-width="0.85"/>
<circle cx="620.8" cy="319.1" r="15.2" stroke-width="1"/>
<path d="M605.6 319.1L636 319.1" stroke-width="1"/>
<text transform="translate(615 315) scale(0.78 1)" font-size="10.14" stroke="#000" stroke-width="0.25" vector-effect="non-scaling-stroke" textLength="14.1" lengthAdjust="spacing">20</text>
<text transform="translate(615 330.5) scale(0.78 1)" font-size="10.81" stroke="#000" stroke-width="0.25" vector-effect="non-scaling-stroke" textLength="12.82" lengthAdjust="spacing">23</text>
<path d="M636 319L645.5 301" stroke-width="0.85"/>
<circle cx="621.5" cy="357.3" r="15.2" stroke-width="1"/>
<path d="M606.3 357.3L636.7 357.3" stroke-width="1"/>
<text transform="translate(616.5 354.5) scale(0.78 1)" font-size="10.14" stroke="#000" stroke-width="0.25" vector-effect="non-scaling-stroke" textLength="13.46" lengthAdjust="spacing">22</text>
<text transform="translate(616 369.7) scale(0.78 1)" font-size="11.08" stroke="#000" stroke-width="0.25" vector-effect="non-scaling-stroke" textLength="12.82" lengthAdjust="spacing">23</text>
<path d="M636.7 357.5L649 377.5" stroke-width="0.85"/>
<text transform="translate(261.7 476.8) scale(0.47 1)" font-size="13.78" stroke="#000" stroke-width="0.25" vector-effect="non-scaling-stroke">1</text>
<text transform="translate(272.7 476.8) scale(0.8 1)" font-size="15" stroke="#000" stroke-width="0.4" vector-effect="non-scaling-stroke">-</text>
<text transform="translate(288 476.8) scale(0.47 1)" font-size="13.78" stroke="#000" stroke-width="0.25" vector-effect="non-scaling-stroke">1</text>
<path d="M68.3 483.8L462.7 485.5" stroke-width="1.1"/>
<path d="M68.5 483.8L68.5 498.2" stroke-width="1.1"/>
<path d="M68.3 498.2L98.7 498.2L102.5 505.4L138 505.6L140.4 490.5L143 484" stroke-width="1.1"/>
<path d="M105 486.5H74.5Q70.5 486.5 70.5 491Q70.5 495.6 74.5 495.6H105" stroke-width="2"/>
<circle class="d" cx="74.5" cy="494.5" r="1.5"/>
<circle class="d" cx="82" cy="494.5" r="1.5"/>
<circle class="d" cx="93.5" cy="494.5" r="1.5"/>
<circle class="d" cx="101" cy="494.5" r="1.5"/>
<circle class="d" cx="81.5" cy="487.6" r="1.4"/>
<circle class="d" cx="95" cy="487.6" r="1.4"/>
<circle class="d" cx="71.8" cy="491" r="1.3"/>
<path d="M93.7 498.5V501.5Q93.7 503.7 95.3 503.7Q96.9 503.7 96.9 501.5V498.5" stroke-width="1.2"/>
<path d="M105.8 486.3L105.8 502.8" stroke-width="1.9"/>
<path d="M105.2 487L108.2 487" stroke-width="1.5"/>
<path d="M105.2 502.1L108.2 502.1" stroke-width="1.5"/>
<circle class="d" cx="107" cy="487.5" r="1.1"/>
<circle class="d" cx="107" cy="501.6" r="1.1"/>
<path d="M105.5 491.3L108.3 491.3" stroke-width="1.4"/>
<path d="M105.5 497.4L108.3 497.4" stroke-width="1.4"/>
<path d="M134.7 487L134.7 502.7" stroke-width="1.9"/>
<path d="M130.7 487.5L138.7 487.5" stroke-width="1.5"/>
<circle class="d" cx="133.9" cy="501.7" r="1.4"/>
<path d="M132.5 502.1L135.7 502.1" stroke-width="1.4"/>
<path d="M142.3 490.3L221.7 490.4" stroke-width="0.85"/>
<path d="M141.7 505.6L227.5 506.1" stroke-width="0.85"/>
<path d="M221.6 490.4L222.7 484.6" stroke-width="1"/>
<path d="M224.9 486L227.9 506.4L257.2 506.4L259.4 502.8L271 502.8L273 506.4L300.3 506.6L303.7 490L306.1 485" stroke-width="1.1"/>
<path d="M225.5 486.3L303 486.5" stroke-width="1"/>
<path d="M230.7 487L230.7 503.5" stroke-width="1.9"/>
<path d="M227.2 487.5L234.2 487.5" stroke-width="1.5"/>
<circle class="d" cx="229.9" cy="502.5" r="1.4"/>
<path d="M228.5 502.9L231.7 502.9" stroke-width="1.4"/>
<path d="M254.4 487.4L254.4 504" stroke-width="1.9"/>
<path d="M255 488.1L252 488.1" stroke-width="1.5"/>
<path d="M255 503.3L252 503.3" stroke-width="1.5"/>
<circle class="d" cx="253.2" cy="488.6" r="1.1"/>
<circle class="d" cx="253.2" cy="502.8" r="1.1"/>
<path d="M274.3 487.4L274.3 504" stroke-width="1.9"/>
<path d="M273.7 488.1L276.7 488.1" stroke-width="1.5"/>
<path d="M273.7 503.3L276.7 503.3" stroke-width="1.5"/>
<circle class="d" cx="275.5" cy="488.6" r="1.1"/>
<circle class="d" cx="275.5" cy="502.8" r="1.1"/>
<path d="M295.9 487.2L295.9 503.7" stroke-width="1.9"/>
<path d="M292.4 487.7L299.4 487.7" stroke-width="1.5"/>
<circle class="d" cx="295.1" cy="502.7" r="1.4"/>
<path d="M293.7 503.1L296.9 503.1" stroke-width="1.4"/>
<path d="M306 491.2L416.6 491.5" stroke-width="0.85"/>
<path d="M303 507.2L421 507.4" stroke-width="0.85"/>
<path d="M416.6 491.6L418.8 485.3" stroke-width="1"/>
<path d="M419.5 487L421.5 507.8L457 507.8" stroke-width="1.1"/>
<path d="M426.3 488.6L426.3 504.4" stroke-width="1.9"/>
<path d="M425.7 489.3L428.7 489.3" stroke-width="1.5"/>
<path d="M425.7 503.7L428.7 503.7" stroke-width="1.5"/>
<circle class="d" cx="427.5" cy="489.8" r="1.1"/>
<circle class="d" cx="427.5" cy="503.2" r="1.1"/>
<path d="M452.4 488.4L452.4 504.6" stroke-width="1.9"/>
<path d="M453 489.1L450 489.1" stroke-width="1.5"/>
<path d="M453 503.9L450 503.9" stroke-width="1.5"/>
<circle class="d" cx="451.2" cy="489.6" r="1.1"/>
<circle class="d" cx="451.2" cy="503.4" r="1.1"/>
<path d="M462.7 485.3L462.7 499.8L459.5 500.6L456.2 501.3L456.8 507.8" stroke-width="1.1"/>
<path d="M455 489.5L465 489.5" stroke-width="0.85"/>
<path d="M68.5 498.2L68.5 541" stroke-width="0.85"/>
<path d="M95.5 503.5L95.5 525" stroke-width="0.85"/>
<path d="M102.5 505.5L102.5 525" stroke-width="0.85"/>
<path d="M107.5 507.7L107.5 525" stroke-width="0.85"/>
<path d="M66 523.5L110.5 523.5" stroke-width="0.85"/>
<path d="M66.8 524.7L70.2 521.3" stroke-width="1.1"/>
<path d="M93.8 524.7L97.2 521.3" stroke-width="1.1"/>
<path d="M101.1 524.7L104.5 521.3" stroke-width="1.1"/>
<path d="M105.3 524.7L108.7 521.3" stroke-width="1.1"/>
<text transform="translate(75.3 520.2) scale(0.95 1)" font-size="9.19" stroke="#000" stroke-width="0.25" vector-effect="non-scaling-stroke" textLength="15.68" lengthAdjust="spacing">450</text>
<text transform="translate(96 520.2) scale(0.6 1)" font-size="8.92" stroke="#000" stroke-width="0.25" vector-effect="non-scaling-stroke" textLength="10.83" lengthAdjust="spacing">95</text>
<text transform="translate(109.4 520.2) scale(0.9 1)" font-size="8.92" stroke="#000" stroke-width="0.25" vector-effect="non-scaling-stroke" textLength="9.92" lengthAdjust="spacing">45</text>
<path d="M66 538.5L466 539.3" stroke-width="0.85"/>
<path d="M66.7 540.3L70.3 536.7" stroke-width="1.1"/>
<path d="M139.5 540.4L143.1 536.8" stroke-width="1.1"/>
<path d="M224 540.6L227.6 537" stroke-width="1.1"/>
<path d="M301.7 540.8L305.3 537.2" stroke-width="1.1"/>
<path d="M419.5 541L423.1 537.4" stroke-width="1.1"/>
<path d="M461.2 541.1L464.8 537.5" stroke-width="1.1"/>
<path d="M141 490.5L141.5 541" stroke-width="0.85"/>
<path d="M224.9 490L226 541" stroke-width="0.85"/>
<path d="M303.2 507L303.7 541" stroke-width="0.85"/>
<path d="M421.5 491L421.5 541" stroke-width="0.85"/>
<path d="M463.5 508L463.5 541" stroke-width="0.85"/>
<text transform="translate(99.8 536.4) scale(0.8 1)" font-size="10.27" stroke="#000" stroke-width="0.25" vector-effect="non-scaling-stroke" textLength="22.28" lengthAdjust="spacing">1195</text>
<text transform="translate(180.6 536.5) scale(0.8 1)" font-size="10.14" stroke="#000" stroke-width="0.25" vector-effect="non-scaling-stroke" textLength="22.55" lengthAdjust="spacing">1510</text>
<text transform="translate(258 536.8) scale(0.95 1)" font-size="9.19" stroke="#000" stroke-width="0.25" vector-effect="non-scaling-stroke" textLength="21.89" lengthAdjust="spacing">1490</text>
<text transform="translate(352.4 537) scale(0.95 1)" font-size="9.46" stroke="#000" stroke-width="0.25" vector-effect="non-scaling-stroke" textLength="20.42" lengthAdjust="spacing">2110</text>
<text transform="translate(437.5 537) scale(0.92 1)" font-size="9.46" stroke="#000" stroke-width="0.25" vector-effect="non-scaling-stroke" textLength="15.78" lengthAdjust="spacing">740</text>
<path d="M450.5 507.5L450.5 525.5" stroke-width="0.85"/>
<path d="M458.5 504L458.5 525.5" stroke-width="0.85"/>
<path d="M462.5 504L462.5 525.5" stroke-width="0.85"/>
<path d="M447 523.5L468.5 523.5" stroke-width="0.85"/>
<path d="M448.4 525.3L451.6 522.1" stroke-width="1.1"/>
<path d="M457.1 525.3L460.3 522.1" stroke-width="1.1"/>
<path d="M460.7 525.3L463.9 522.1" stroke-width="1.1"/>
<text transform="translate(437.8 521.6) scale(0.67 1)" font-size="9.73" stroke="#000" stroke-width="0.25" vector-effect="non-scaling-stroke" textLength="16.23" lengthAdjust="spacing">165</text>
<text transform="translate(465 521.3) scale(0.95 1)" font-size="8.51" stroke="#000" stroke-width="0.25" vector-effect="non-scaling-stroke" textLength="10" lengthAdjust="spacing">90</text>
<path d="M465.7 484.5L487 484.5" stroke-width="0.85"/>
<path d="M465.7 489.5L487 489.5" stroke-width="0.85"/>
<path d="M483.5 476L483.5 498.7" stroke-width="0.85"/>
<path d="M481.4 486.1L484.6 482.9" stroke-width="1.1"/>
<path d="M481.4 491.4L484.6 488.2" stroke-width="1.1"/>
<text transform="translate(481.5 500.5) rotate(-90) scale(0.78 1)" font-size="9.46" stroke="#000" stroke-width="0.25" vector-effect="non-scaling-stroke" textLength="12.18" lengthAdjust="spacing">40</text>
<text transform="translate(644.1 258.4) scale(0.75 1)" font-size="15.41" class="r" stroke="#000" stroke-width="0.5" vector-effect="non-scaling-stroke" textLength="26.53" lengthAdjust="spacing">2-2</text>
<path d="M643.5 433.5L643.5 278.6L648.6 276.6L650.5 270.5L658.7 270.5L659.5 278L667 279L667.5 433.5" stroke-width="1"/>
<path d="M649.5 298.7L649.5 381" stroke-width="0.9"/>
<path d="M649 298.5L667 298.5" stroke-width="1"/>
<path d="M651.7 281V276Q651.7 273 654.5 273Q657.4 273 657.4 276V281" stroke-width="1.2"/>
<path d="M647.5 282.5L663.5 282.5L663.5 295.5L647.5 295.5Z" stroke-width="1.8"/>
<circle class="d" cx="648.7" cy="283.7" r="1.6"/>
<circle class="d" cx="662.6" cy="283.7" r="1.6"/>
<circle class="d" cx="648.7" cy="294.1" r="1.6"/>
<circle class="d" cx="662.6" cy="294.1" r="1.6"/>
<path d="M645.5 290L645.5 302" stroke-width="1.5"/>
<path d="M649 298.6L644.5 302.5" stroke-width="0.8"/>
<path d="M645.5 382.4L645.5 394.4" stroke-width="1.5"/>
<path d="M649.2 384.5L665.8 384.5" stroke-width="2"/>
<circle class="d" cx="651.3" cy="387" r="1.5"/>
<circle class="d" cx="662.8" cy="387" r="1.5"/>
<path d="M644 381.5L667.5 381.5" stroke-width="0.8"/>
<path d="M646 415.3V425Q646 429 649 428.5Q651 428 651.2 425L653.8 415.3" stroke-width="2"/>
<path d="M650.6 423L665.2 423" stroke-width="1.9"/>
<circle class="d" cx="664.3" cy="422.2" r="1.3"/>
<path d="M653 425.5L666.5 425.5" stroke-width="1" style="stroke:#777"/>
<path d="M644.3 433.2L651.3 431.2L653.2 426" stroke-width="1.1"/>
<path d="M642 434.5L705 434.5" stroke-width="0.85"/>
<path d="M702 268L704 436" stroke-width="0.85"/>
<path d="M668 270.5L705 270.5" stroke-width="0.85"/>
<path d="M670 298.5L705 298.5" stroke-width="0.85"/>
<path d="M668 381.5L705.5 381.5" stroke-width="0.85"/>
<path d="M700.33 272L703.73 268.6" stroke-width="1.1"/>
<path d="M700.67 300.6L704.07 297.2" stroke-width="1.1"/>
<path d="M701.65 383.2L705.05 379.8" stroke-width="1.1"/>
<path d="M702.28 436L705.68 432.6" stroke-width="1.1"/>
<text transform="translate(698.5 290) rotate(-90) scale(0.78 1)" font-size="10.14" stroke="#000" stroke-width="0.25" vector-effect="non-scaling-stroke" textLength="18.59" lengthAdjust="spacing">445</text>
<text transform="translate(698.5 343.7) rotate(-90) scale(0.75 1)" font-size="10.14" stroke="#000" stroke-width="0.25" vector-effect="non-scaling-stroke" textLength="22.55" lengthAdjust="spacing">1510</text>
<text transform="translate(699.5 413.4) rotate(-90) scale(0.76 1)" font-size="10.14" stroke="#000" stroke-width="0.25" vector-effect="non-scaling-stroke" textLength="16.91" lengthAdjust="spacing">945</text>
<text transform="translate(679.5 418.5) rotate(-90) scale(0.78 1)" font-size="10.14" stroke="#000" stroke-width="0.25" vector-effect="non-scaling-stroke" textLength="12.95" lengthAdjust="spacing">25</text>
<path d="M670.9 426.5L683.5 426.5" stroke-width="0.85"/>
<path d="M681.5 421L681.5 429.5" stroke-width="0.85"/>
<path d="M679.6 424.6L682.4 421.8" stroke-width="1.1"/>
<path d="M679.6 427.7L682.4 424.9" stroke-width="1.1"/>
<text transform="translate(682.3 368.3) rotate(-90) scale(0.66 1)" font-size="10.29" stroke="#000" stroke-width="0.4" vector-effect="non-scaling-stroke" textLength="89.09" lengthAdjust="spacing">АБНР 2-70-5 2</text>
<path d="M668 299L684.5 311L684.5 369.6L667.5 381.5" stroke-width="0.85"/>
<path d="M644.5 437L644.5 462.4" stroke-width="0.85"/>
<path d="M667.5 430L667.5 462" stroke-width="0.85"/>
<path d="M642 457.5L670 457.5" stroke-width="0.85"/>
<path d="M642.3 458.7L645.7 455.3" stroke-width="1.1"/>
<path d="M666 458.7L669.4 455.3" stroke-width="1.1"/>
<text transform="translate(650.6 454.6) scale(0.78 1)" font-size="10.81" stroke="#000" stroke-width="0.25" vector-effect="non-scaling-stroke" textLength="18.72" lengthAdjust="spacing">350</text>
<path d="M650 197.3L844 197.3" stroke-width="1.6" style="stroke:#f6f6f6" stroke-dasharray="3 2"/>
<path d="M715 545.3L844 545.3" stroke-width="1.4" style="stroke:#f5f5f5" stroke-dasharray="3 2"/>
</g>
</svg>
</body>
</html>
